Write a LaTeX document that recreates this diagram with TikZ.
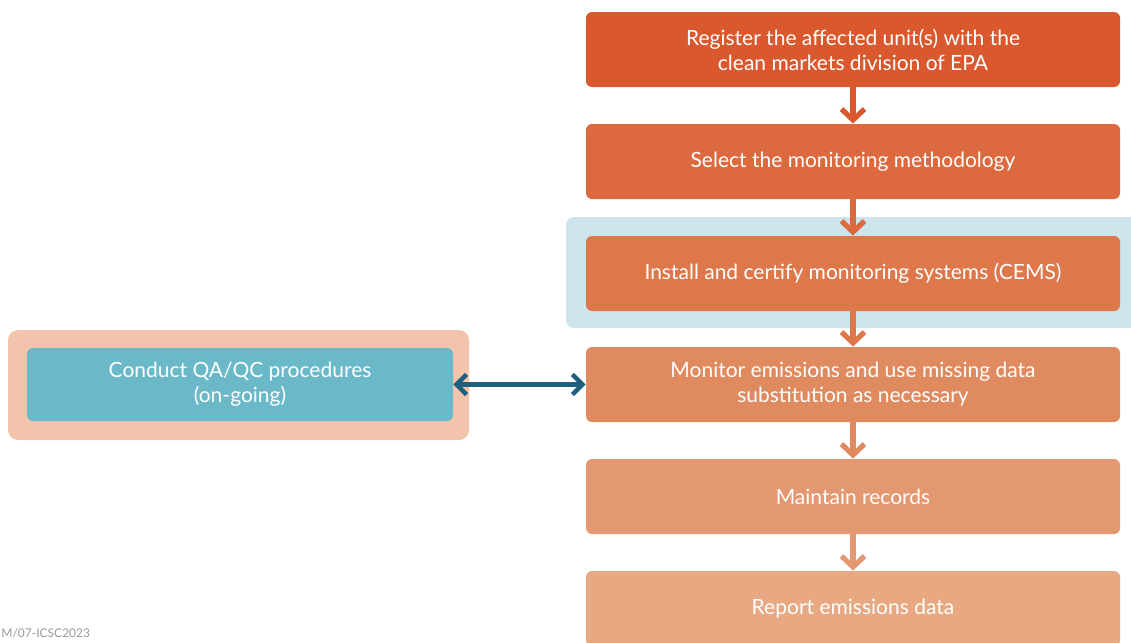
\documentclass[tikz,border=0pt]{standalone}
\usepackage{fontspec}
\setmainfont{Lato}
\usetikzlibrary{arrows.meta}
\definecolor{cA}{HTML}{D9582E}
\definecolor{cB}{HTML}{DC6A3E}
\definecolor{cC}{HTML}{DE784B}
\definecolor{cD}{HTML}{E08A60}
\definecolor{cE}{HTML}{E49872}
\definecolor{cF}{HTML}{E8A882}
\definecolor{hiblue}{HTML}{CDE4EC}
\definecolor{peach}{HTML}{F2C4AC}
\definecolor{teal}{HTML}{6BB8C9}
\definecolor{darkteal}{HTML}{1F5F7E}
\tikzset{
  stepbox/.style={rectangle, rounded corners=3pt, minimum width=267pt, minimum height=37.5pt,
    text=white, align=center, font=\fontsize{10.5}{12.5}\selectfont, inner sep=0pt},
  flowarrow/.style={line width=2.6pt, -{Straight Barb[length=5.5pt,width=11.5pt,line width=2.6pt]}}
}
\begin{document}
\begin{tikzpicture}[x=0.5pt,y=-0.5pt]
\useasboundingbox (0,0) rectangle (1131,643);
% backgrounds
\fill[hiblue, rounded corners=4pt] (566,217) rectangle (1145,328);
\fill[peach, rounded corners=5pt] (8,330) rectangle (469,440);
% steps
\node[stepbox, fill=cA] (s1) at (853,49.5) {Register the affected unit(s) with the\\clean markets division of EPA};
\node[stepbox, fill=cB] (s2) at (853,161.5) {Select the monitoring methodology};
\node[stepbox, fill=cC] (s3) at (853,273.5) {Install and certify monitoring systems (CEMS)};
\node[stepbox, fill=cD] (s4) at (853,384.5) {Monitor emissions and use missing data\\substitution as necessary};
\node[stepbox, fill=cE] (s5) at (853,496.5) {Maintain records};
\node[stepbox, fill=cF] (s6) at (853,608.5) {Report emissions data};
\node[stepbox, fill=teal, minimum width=213pt, minimum height=36.5pt] (qa) at (240,384.5) {Conduct QA/QC procedures\\(on-going)};
% connectors
\draw[flowarrow, cA] (s1.south) -- (s2.north);
\draw[flowarrow, cB] (s2.south) -- (s3.north);
\draw[flowarrow, cC] (s3.south) -- (s4.north);
\draw[flowarrow, cD] (s4.south) -- (s5.north);
\draw[flowarrow, cE] (s5.south) -- (s6.north);
\draw[darkteal, line width=2.2pt, {Straight Barb[length=5pt,width=10pt,line width=2.2pt]}-{Straight Barb[length=5pt,width=10pt,line width=2.2pt]}] (qa.east) -- (s4.west);
% watermark
\node[anchor=base west, inner sep=0pt, text=black!40, font=\fontsize{6}{7}\selectfont] (wm) at (1,637) {M/07-ICSC2023};
\end{tikzpicture}
\end{document}
